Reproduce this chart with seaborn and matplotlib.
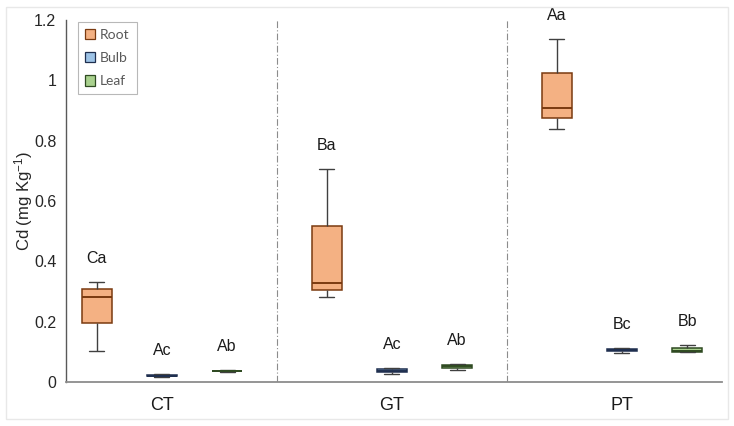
import matplotlib
matplotlib.use("Agg")
import matplotlib.pyplot as plt
from matplotlib.colors import to_hex
from matplotlib.patches import Patch, Rectangle
import numpy as np
import pandas as pd
import seaborn as sns

# five-number summaries: min, q1, median, q3, max
groups = ["CT", "GT", "PT"]
tissues = ["Root", "Bulb", "Leaf"]

ct_root = [0.104, 0.194, 0.282, 0.307, 0.330]
ct_bulb = [0.016, 0.019, 0.021, 0.023, 0.025]
ct_leaf = [0.033, 0.035, 0.036, 0.037, 0.039]
gt_root = [0.283, 0.305, 0.329, 0.517, 0.706]
gt_bulb = [0.028, 0.034, 0.038, 0.043, 0.046]
gt_leaf = [0.041, 0.048, 0.052, 0.057, 0.059]
pt_root = [0.840, 0.875, 0.908, 1.024, 1.136]
pt_bulb = [0.097, 0.102, 0.106, 0.110, 0.112]
pt_leaf = [0.098, 0.101, 0.104, 0.113, 0.123]

letters = {
    ("CT", "Root"): "Ca", ("CT", "Bulb"): "Ac", ("CT", "Leaf"): "Ab",
    ("GT", "Root"): "Ba", ("GT", "Bulb"): "Ac", ("GT", "Leaf"): "Ab",
    ("PT", "Root"): "Aa", ("PT", "Bulb"): "Bc", ("PT", "Leaf"): "Bb",
}

fills = {"Root": "#F4B183", "Bulb": "#9DC3E6", "Leaf": "#A9D18E"}
edges = {"Root": "#7A3A10", "Bulb": "#1F2F4F", "Leaf": "#2F4A22"}

values = {
    ("CT", "Root"): ct_root, ("CT", "Bulb"): ct_bulb, ("CT", "Leaf"): ct_leaf,
    ("GT", "Root"): gt_root, ("GT", "Bulb"): gt_bulb, ("GT", "Leaf"): gt_leaf,
    ("PT", "Root"): pt_root, ("PT", "Bulb"): pt_bulb, ("PT", "Leaf"): pt_leaf,
}

rows = []
for (g, t), vals in values.items():
    for v in vals:
        rows.append({"group": g, "tissue": t, "cd": v})
df = pd.DataFrame(rows)

sns.set_style("white")
plt.rcParams["font.family"] = ["Liberation Sans", "DejaVu Sans"]
plt.rcParams["mathtext.fontset"] = "custom"
plt.rcParams["mathtext.rm"] = "Liberation Sans"
plt.rcParams["mathtext.default"] = "regular"

fig = plt.figure(figsize=(7.34, 4.26), dpi=100)
ax = fig.add_axes([66 / 734, 44 / 426, 656 / 734, 362 / 426])

# light frame round the whole chart
fig.patches.append(Rectangle((6 / 734, 7 / 426), 722 / 734, 412 / 426,
                             transform=fig.transFigure, fill=False,
                             edgecolor="#e8e8e8", linewidth=1))

width = 0.85
gap = 0.54
sns.boxplot(
    data=df, x="group", y="cd", hue="tissue",
    order=groups, hue_order=tissues, width=width, gap=gap,
    whis=(0, 100), palette=fills, saturation=1,
    linecolor="#404040", linewidth=1.0, legend=False, ax=ax,
)

step = width / len(tissues)


def tissue_at(x):
    off = x - np.round(x)
    return tissues[int(np.round(off / step)) + 1]


# box outline and median in the tissue's darker shade
fill_lookup = {to_hex(c): t for t, c in fills.items()}
for p in ax.patches:
    t = fill_lookup.get(to_hex(p.get_facecolor()[:3]))
    if t:
        p.set_edgecolor(edges[t])
        p.set_linewidth(1.1)
box_w = step * (1 - gap)
for ln in ax.lines:
    xd = np.asarray(ln.get_xdata(), dtype=float)
    yd = np.asarray(ln.get_ydata(), dtype=float)
    if len(xd) == 2 and yd[0] == yd[1] and abs(abs(xd[1] - xd[0]) - box_w) < 1e-6:
        ln.set_color(edges[tissue_at(xd.mean())])
        ln.set_linewidth(1.4)

for (g, t), vals in values.items():
    x = groups.index(g) + (tissues.index(t) - 1) * step
    ax.text(x, max(vals) + 0.078, letters[(g, t)], ha="center", va="center",
            fontsize=11.5, color="#1a1a1a")

for xv in [0.5, 1.5]:
    ax.axvline(xv, color="#8c8c8c", linewidth=0.8, linestyle=(0, (6, 2, 1, 2)))

ax.set_xlim(-0.417, 2.435)
ax.set_ylim(0, 1.2)
ax.set_yticks([0, 0.2, 0.4, 0.6, 0.8, 1.0, 1.2])
ax.set_yticklabels(["0", "0.2", "0.4", "0.6", "0.8", "1", "1.2"])
ax.tick_params(axis="y", length=0, labelsize=11.5, pad=7, colors="#262626")
ax.tick_params(axis="x", length=0, labelsize=13, pad=11, colors="#1a1a1a")
ax.set_xlabel("")
ax.set_ylabel("Cd (mg Kg$^{-1}$)", fontsize=12, labelpad=-1, color="#262626")

for s in ["top", "right"]:
    ax.spines[s].set_visible(False)
ax.spines["left"].set_color("#595959")
ax.spines["bottom"].set_color("#8c8c8c")
ax.spines["left"].set_linewidth(1)
ax.spines["bottom"].set_linewidth(1.3)

handles = [Patch(facecolor=fills[t], edgecolor=edges[t], linewidth=0.9, label=t)
           for t in tissues]
leg = ax.legend(handles=handles, loc="upper left", bbox_to_anchor=(0.018, 0.994),
                borderaxespad=0, frameon=True, fancybox=False, edgecolor="#a6a6a6",
                handlelength=0.75, handleheight=0.75, handletextpad=0.35,
                labelspacing=0.8, borderpad=0.5,
                prop={"family": ["Lato", "DejaVu Sans"], "size": 10})
leg.get_frame().set_linewidth(0.8)
for txt in leg.get_texts():
    txt.set_color("#595959")

fig.savefig("out.png", dpi=100)
